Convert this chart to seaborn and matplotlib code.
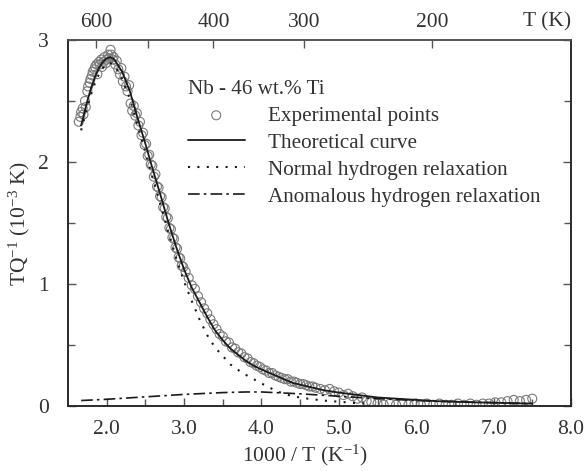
import numpy as np
import pandas as pd
import matplotlib
matplotlib.use("Agg")
import matplotlib.pyplot as plt
import seaborn as sns

exp_x = [1.64, 1.66, 1.67, 1.69, 1.70, 1.72, 1.73, 1.75, 1.76, 1.78, 1.79, 1.81, 1.82, 1.84,
         1.85, 1.87, 1.88, 1.90, 1.91, 1.93, 1.94, 1.96, 1.97, 1.99, 2.00, 2.02, 2.03, 2.05,
         2.06, 2.08, 2.09,
         2.11, 2.13, 2.15, 2.17, 2.19, 2.21, 2.23, 2.25, 2.27, 2.29, 2.31, 2.33, 2.35, 2.37,
         2.39, 2.41, 2.43, 2.45, 2.47, 2.49, 2.51, 2.53, 2.55, 2.57, 2.59, 2.61, 2.63, 2.65,
         2.67, 2.69, 2.71, 2.73, 2.75, 2.77, 2.79, 2.81, 2.83, 2.85, 2.87, 2.89, 2.91, 2.93,
         2.95, 2.97, 2.99,
         3.02, 3.06, 3.10, 3.14, 3.18, 3.22, 3.26, 3.30, 3.34, 3.38, 3.42, 3.46, 3.50, 3.54,
         3.58, 3.62, 3.66, 3.70, 3.74, 3.78, 3.82, 3.86, 3.90, 3.94, 3.98, 4.02, 4.06, 4.10,
         4.14, 4.18, 4.22, 4.26, 4.30, 4.34, 4.38, 4.42, 4.46, 4.50, 4.54, 4.58, 4.62, 4.66,
         4.70,
         4.76, 4.82, 4.88, 4.94, 5.00, 5.06, 5.12, 5.18, 5.24, 5.30, 5.36, 5.42, 5.50, 5.58,
         5.66, 5.74, 5.82, 5.90, 5.98, 6.06, 6.14, 6.22, 6.30, 6.38, 6.46, 6.54, 6.62, 6.70,
         6.78, 6.86, 6.94, 7.02, 7.10, 7.18, 7.26, 7.34, 7.42, 7.50]
exp_y = [2.33, 2.37, 2.41, 2.44, 2.39, 2.50, 2.45, 2.58, 2.62, 2.65, 2.68, 2.71, 2.74, 2.76,
         2.78, 2.80, 2.72, 2.82, 2.80, 2.84, 2.78, 2.82, 2.86, 2.81, 2.84, 2.88, 2.85, 2.92,
         2.88, 2.84, 2.86,
         2.80, 2.83, 2.76, 2.72, 2.77, 2.66, 2.70, 2.62, 2.58, 2.63, 2.48, 2.42, 2.46, 2.38,
         2.40, 2.30, 2.33, 2.22, 2.24, 2.14, 2.15, 2.05, 2.06, 1.98, 1.97, 1.88, 1.90, 1.80,
         1.79, 1.72, 1.71, 1.63, 1.62, 1.55, 1.54, 1.46, 1.45, 1.38, 1.37, 1.30, 1.29, 1.22,
         1.21, 1.15, 1.14,
         1.10, 1.05, 0.99, 0.96, 0.90, 0.85, 0.80, 0.76, 0.71, 0.67, 0.63, 0.59, 0.57, 0.53,
         0.52, 0.48, 0.47, 0.44, 0.43, 0.40, 0.39, 0.36, 0.35, 0.33, 0.32, 0.30, 0.29, 0.27,
         0.27, 0.25, 0.24, 0.23, 0.22, 0.22, 0.20, 0.20, 0.19, 0.18, 0.18, 0.17, 0.16, 0.16,
         0.15,
         0.14, 0.13, 0.14, 0.12, 0.11, 0.09, 0.10, 0.08, 0.06, 0.07, 0.04, 0.03, 0.02, 0.01,
         0.02, 0.01, 0.02, 0.01, 0.02, 0.01, 0.02, 0.01, 0.02, 0.01, 0.01, 0.02, 0.01, 0.02,
         0.01, 0.02, 0.02, 0.03, 0.03, 0.04, 0.05, 0.04, 0.05, 0.06]

theo_x = [1.67, 1.75, 1.80, 1.85, 1.90, 1.95, 2.00, 2.05, 2.10, 2.15, 2.20, 2.30, 2.40, 2.50,
          2.60, 2.70, 2.80, 2.90, 3.00, 3.10, 3.20, 3.30, 3.40, 3.50, 3.60, 3.70, 3.80, 3.90,
          4.00, 4.20, 4.40, 4.60, 4.80, 5.00, 5.25, 5.50, 5.75, 6.00, 6.25, 6.50, 6.75, 7.00,
          7.25, 7.50]
theo_y = [2.30, 2.50, 2.61, 2.70, 2.77, 2.82, 2.85, 2.86, 2.84, 2.79, 2.74, 2.58, 2.36, 2.15,
          1.93, 1.72, 1.50, 1.30, 1.12, 0.97, 0.85, 0.73, 0.62, 0.54, 0.47, 0.42, 0.37, 0.33,
          0.30, 0.245, 0.19, 0.16, 0.13, 0.11, 0.09, 0.07, 0.06, 0.05, 0.04, 0.035, 0.03, 0.027,
          0.023, 0.02]

norm_x = [1.67, 1.75, 1.80, 1.85, 1.90, 1.95, 2.00, 2.05, 2.10, 2.15, 2.20, 2.30, 2.40, 2.50,
          2.60, 2.70, 2.80, 2.90, 3.00, 3.10, 3.20, 3.30, 3.40, 3.50, 3.60, 3.70, 3.80, 3.90,
          4.00, 4.20, 4.40, 4.60, 4.80, 5.00, 5.20, 5.40]
norm_y = [2.26, 2.45, 2.56, 2.65, 2.72, 2.77, 2.80, 2.81, 2.79, 2.74, 2.68, 2.52, 2.30, 2.08,
          1.86, 1.64, 1.42, 1.21, 1.02, 0.86, 0.71, 0.58, 0.48, 0.41, 0.34, 0.295, 0.255, 0.22,
          0.185, 0.12, 0.08, 0.06, 0.045, 0.035, 0.025, 0.02]

anom_x = [1.67, 2.00, 2.50, 3.00, 3.50, 3.80, 4.00, 4.50, 5.00, 5.50, 6.00, 6.50, 7.00, 7.50]
anom_y = [0.045, 0.055, 0.075, 0.095, 0.11, 0.115, 0.115, 0.10, 0.08, 0.06, 0.045, 0.035,
          0.027, 0.02]

top_pos = [1.86, 2.53, 3.38, 4.55, 6.21]
top_labels = ["600", "", "400", "300", "200"]

sns.set_theme(style="ticks")
plt.rcParams['font.family'] = ['Liberation Serif', 'DejaVu Serif']
plt.rcParams['mathtext.fontset'] = 'custom'
plt.rcParams['mathtext.rm'] = 'Liberation Serif'
plt.rcParams['mathtext.it'] = 'Liberation Serif:italic'
plt.rcParams['text.color'] = '#333333'
plt.rcParams['axes.labelcolor'] = '#333333'
plt.rcParams['xtick.color'] = '#555555'
plt.rcParams['ytick.color'] = '#555555'
plt.rcParams['xtick.labelcolor'] = '#333333'
plt.rcParams['ytick.labelcolor'] = '#333333'

fs = 15.5
fig = plt.figure(figsize=(5.85, 4.71), dpi=100)
ax = fig.add_axes([0.1162, 0.138, 0.8598, 0.777])

df_exp = pd.DataFrame({"x": exp_x, "y": exp_y})
df_theo = pd.DataFrame({"x": theo_x, "y": theo_y})
df_norm = pd.DataFrame({"x": norm_x, "y": norm_y})
df_anom = pd.DataFrame({"x": anom_x, "y": anom_y})

sns.scatterplot(data=df_exp, x="x", y="y", ax=ax, marker="o", s=42,
                facecolor="none", edgecolor="#7a7a7a", linewidth=0.8,
                label="Experimental points", zorder=2)
sns.lineplot(data=df_theo, x="x", y="y", ax=ax, color="#1a1a1a", lw=1.3,
             label="Theoretical curve", zorder=3)
sns.lineplot(data=df_norm, x="x", y="y", ax=ax, color="#1a1a1a", lw=1.5,
             label="Normal hydrogen relaxation", zorder=3)
sns.lineplot(data=df_anom, x="x", y="y", ax=ax, color="#1a1a1a", lw=1.2,
             label="Anomalous hydrogen relaxation", zorder=3)
lines = ax.get_lines()
lines[1].set_dashes((1.0, 3.5))
lines[2].set_dashes((7, 2.5, 1.5, 2.5))

ax.set_xlim(1.5, 8.0)
ax.set_ylim(0, 3)
ax.set_xticks([2, 3, 4, 5, 6, 7, 8])
ax.set_xticklabels(["2.0", "3.0", "4.0", "5.0", "6.0", "7.0", "8.0"])
ax.set_xticks([2.5, 3.5, 4.5, 5.5, 6.5, 7.5], minor=True)
ax.set_yticks([0, 1, 2, 3])
ax.set_yticks([0.5, 1.5, 2.5], minor=True)
ax.tick_params(which="both", direction="in", right=True, labelsize=fs, width=1.0)
ax.tick_params(axis="x", which="major", length=6, pad=10)
ax.tick_params(axis="y", which="major", length=6, pad=14)
ax.tick_params(which="minor", length=5)
for sp in ax.spines.values():
    sp.set_color("#555555")
    sp.set_linewidth(1.2)

ax.set_xlabel(r"1000 / T (K$^{\mathrm{-1}}$)", fontsize=fs, va="center")
ax.set_ylabel(r"TQ$^{\mathrm{-1}}$ (10$^{\mathrm{-3}}$ K)", fontsize=fs, va="center")
ax.xaxis.set_label_coords(0.471, -0.134)
ax.yaxis.set_label_coords(-0.097, 0.5)

ax2 = ax.twiny()
ax2.set_xlim(ax.get_xlim())
ax2.set_xticks(top_pos)
ax2.set_xticklabels(top_labels)
ax2.tick_params(direction="in", length=6, width=1.0, labelsize=fs, pad=6)
ax2.spines["top"].set_color("#555555")
ax2.spines["top"].set_linewidth(1.2)
ax.text(0.952, 1.049, "T (K)", transform=ax.transAxes, fontsize=fs,
        ha="center", va="center")

handles, labels = ax.get_legend_handles_labels()
leg = ax.legend(handles, labels, title="Nb - 46 wt.% Ti", loc="upper left",
                bbox_to_anchor=(0.217, 0.92), frameon=False, fontsize=15.2,
                title_fontsize=15.2, handlelength=2.7, handletextpad=1.09,
                labelspacing=0.34, borderpad=0, alignment="left")

fig.savefig("out.png", dpi=100)
